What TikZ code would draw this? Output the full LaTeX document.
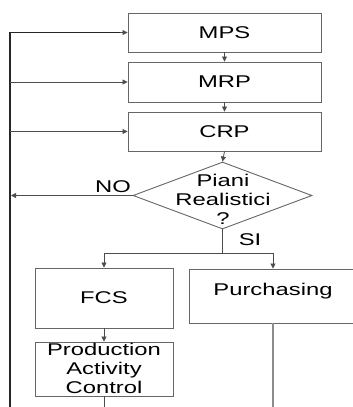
\documentclass[tikz,border=0pt]{standalone}
\usepackage{fontspec}
\setmainfont{Liberation Sans}
\newfontfamily\wide[FakeStretch=1.4]{Liberation Sans}
\usetikzlibrary{arrows.meta,shapes.geometric}
\tikzset{
  box/.style={draw=black!60, line width=0.9pt, rectangle, inner sep=0pt},
  txt/.style={font=\wide\fontsize{17}{19}\selectfont, text=black, align=center, inner sep=0pt},
  link/.style={draw=black!70, line width=0.8pt},
  tip/.style={-{Triangle[length=5pt,width=5pt]}},
  rail/.style={draw=black!85, line width=1.8pt}
}
\begin{document}
\begin{tikzpicture}[x=1pt,y=-1pt]
\clip (0,0) rectangle (353,407);
\fill[white] (0,0) rectangle (353,407);

% planning chain
\node[box, minimum width=193pt, minimum height=39pt] (mps) at (224.5,32.5) {};
\node[txt] (mpst) at (mps.center) {MPS};
\node[box, minimum width=193pt, minimum height=40pt] (mrp) at (224.5,82) {};
\node[txt] (mrpt) at (mrp.center) {MRP};
\node[box, minimum width=193pt, minimum height=39pt] (crp) at (224.5,131.5) {};
\node[txt] (crpt) at (crp.center) {CRP};

% decision
\node[draw=black!60, line width=0.9pt, diamond, inner sep=0pt, minimum width=179pt, minimum height=67pt] (dec) at (222.5,195.5) {};
\node[txt] (dect) at (223,199) {Piani\\Realistici\\?};

% execution
\node[box, minimum width=138pt, minimum height=60pt] (fcs) at (104,298) {};
\node[txt] (fcst) at (fcs.center) {FCS};
\node[box, minimum width=168pt, minimum height=54pt] (pur) at (273,296) {};
\node[txt] (purt) at (273,291) {Purchasing};
\node[box, minimum width=138pt, minimum height=54pt] (pac) at (104,369) {};
\node[txt] (pact) at (104,368) {Production\\Activity\\Control};

% labels
\node[txt] (no) at (113,187) {NO};
\node[txt] (si) at (250,240) {SI};

% helper points
\coordinate (railtop) at (10,32.5);
\coordinate (railbot) at (10,407);
\coordinate (noend) at (11,195.5);
\coordinate (split) at (222.5,253);
\coordinate (splitl) at (104,253);
\coordinate (splitr) at (273,253);
\coordinate (pacend) at (104,407);
\coordinate (purend) at (273,407);

% feedback rail
\draw[rail] (railbot) -- (railtop) -- ++(110,0);
\draw[link, tip] (railtop) ++(110,0) -- (mps.west);
\draw[link, tip] (mrp.west -| railtop) -- (mrp.west);
\draw[link, tip] (crp.west -| railtop) -- (crp.west);
\draw[link, tip] (dec.west) -- (noend);

% vertical flow
\draw[link, tip] (mps.south) -- (mrp.north);
\draw[link, tip] (mrp.south) -- (crp.north);
\draw[link, tip] (crp.south) -- (dec.north);
\draw[link] (dec.south) -- (split);
\draw[link] (splitl) -- (splitr);
\draw[link, tip] (splitl) -- (fcs.north);
\draw[link, tip] (splitr) -- (pur.north);
\draw[link, tip] (fcs.south) -- (pac.north);
\draw[link] (pac.south) -- (pacend);
\draw[link, draw=black!45, line width=1.2pt] (pur.south) -- (purend);
\end{tikzpicture}
\end{document}
